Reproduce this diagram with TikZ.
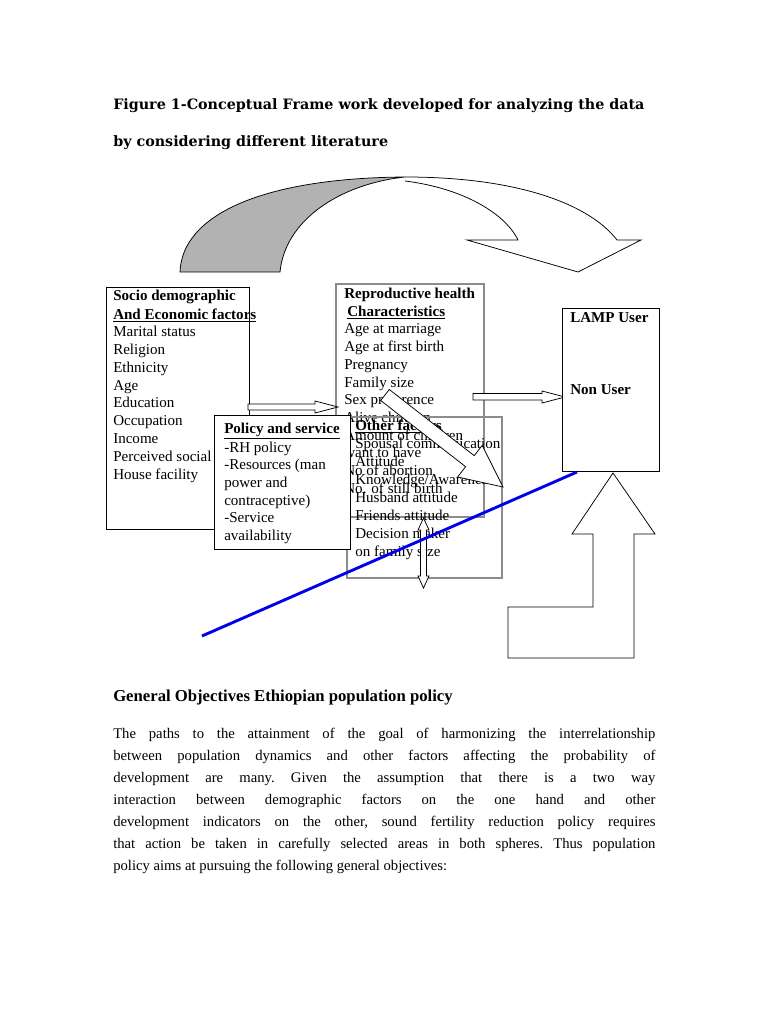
\documentclass[tikz,border=0pt]{standalone}
\usepackage{fontspec}
\setmainfont{Liberation Serif}
\newfontfamily\titlefont{DejaVu Serif}
\usetikzlibrary{positioning}
\definecolor{boxgray}{RGB}{140,140,140}
\definecolor{ribbongray}{RGB}{178,178,178}
\definecolor{trendblue}{RGB}{0,0,235}
\tikzset{
  boxframe/.style={draw=black,line width=0.7pt,fill=white},
  grayframe/.style={draw=boxgray,line width=0.9pt},
  blockarrow/.style={draw=black,line width=0.6pt,fill=white,line join=miter},
  txt/.style={anchor=base west,inner sep=0pt,font=\fontsize{12}{14}\selectfont},
  hdr/.style={anchor=base west,inner sep=0pt,font=\fontsize{12}{14}\selectfont\bfseries},
  ttl/.style={anchor=base west,inner sep=0pt,font=\titlefont\fontsize{11.4}{13}\selectfont\bfseries},
  bodyline/.style={anchor=base west,inner sep=0pt,font=\fontsize{11.7}{14}\selectfont\frenchspacing}
}
\newcommand{\fullline}[1]{\makebox[432pt][s]{#1}}

\begin{document}
\begin{tikzpicture}[x=0.7968pt,y=-0.7968pt]
  \useasboundingbox (0,0) rectangle (768,1024);

  % title
  \node[ttl] (title1) at (113,110) {Figure 1-Conceptual Frame work developed for analyzing the data};
  \node[ttl] (title2) at (113,147) {by considering different literature};

  % curved arrow over the frame work
  \draw[line width=0.6pt,fill=ribbongray] (180,272) .. controls (182,215) and (262,178) .. (405,177)
    .. controls (340,184) and (285,220) .. (280,272) -- cycle;
  \draw[blockarrow] (405,177) .. controls (520,177) and (590,205) .. (617,240) -- (641,240) -- (578,272)
    -- (467,240) -- (518,240) .. controls (505,213) and (462,188) .. (405,181);

  % socio demographic box
  \draw[boxframe] (106,287) rectangle (249,529);
  \node[hdr] (soch1) at (113,300.7) {Socio demographic};
  \node[hdr] (soch2) at (113,319.3) {\underline{And Economic factors}};
  \node[txt] (soc1) at (113,336) {Marital status};
  \node[txt] (soc2) at (113,354) {Religion};
  \node[txt] (soc3) at (113,372) {Ethnicity};
  \node[txt] (soc4) at (113,390) {Age};
  \node[txt] (soc5) at (113,407) {Education};
  \node[txt] (soc6) at (113,425) {Occupation};
  \node[txt] (soc7) at (113,443) {Income};
  \node[txt] (soc8) at (113,461) {Perceived social};
  \node[txt] (soc9) at (113,479) {House facility};

  % reproductive health box
  \draw[grayframe] (336,284) rectangle (484,517);
  \node[hdr] (reph1) at (344,298.3) {Reproductive health};
  \node[hdr] (reph2) at (347,316) {\underline{Characteristics}};
  \node[txt] (rep1) at (344,333.5) {Age at marriage};
  \node[txt] (rep2) at (344,351) {Age at first birth};
  \node[txt] (rep3) at (344,369) {Pregnancy};
  \node[txt] (rep4) at (344,387) {Family size};
  \node[txt] (rep5) at (344,404) {Sex preference};
  \node[txt] (rep6) at (344,422) {Alive children};
  \node[txt] (rep7) at (344,440) {Amount of children};
  \node[txt] (rep8) at (344,457) {want to have};
  \node[txt] (rep9) at (344,475) {No of abortion};
  \node[txt] (rep10) at (344,493) {No. of still birth};

  % other factors box
  \draw[grayframe] (347,417) rectangle (502,578);
  \node[hdr] (oth0) at (355,430) {\underline{Other factors}};
  \node[txt] (oth1) at (355,448) {Spousal communication};
  \node[txt] (oth2) at (355,466) {Attitude};
  \node[txt] (oth3) at (355,484) {Knowledge/Awareness};
  \node[txt] (oth4) at (355,502) {Husband attitude};
  \node[txt] (oth5) at (355,520) {Friends attitude};
  \node[txt] (oth6) at (355,538) {Decision maker};
  \node[txt] (oth7) at (355,556) {on family size};

  % small block arrows
  \draw[blockarrow] (248,404) -- (315,404) -- (315,401) -- (338,407) -- (315,413) -- (315,410) -- (248,410) -- cycle;
  \draw[blockarrow] (473,393.5) -- (542,393.5) -- (542,391) -- (565,397) -- (542,403) -- (542,400) -- (473,400) -- cycle;

  % policy and service box
  \draw[boxframe] (214,415) rectangle (350,549);
  \node[hdr] (pol0) at (224,433.3) {\underline{Policy and service}};
  \node[txt] (pol1) at (224,452) {-RH policy};
  \node[txt] (pol2) at (224,469) {-Resources (man};
  \node[txt] (pol3) at (224,487) {power and};
  \node[txt] (pol4) at (224,505) {contraceptive)};
  \node[txt] (pol5) at (224,522) {-Service};
  \node[txt] (pol6) at (224,540) {availability};

  % diagonal arrow
  \draw[blockarrow] (389.3,389.5) -- (474.2,455.7) -- (482.2,445.4) -- (503,487) -- (457.6,477.0)
    -- (465.6,466.7) -- (380.7,400.5) -- cycle;

  % LAMP box
  \draw[boxframe] (562,308) rectangle (659,471);
  \node[hdr] (lamp) at (570,322.7) {LAMP User};
  \node[hdr] (nonuser) at (570,394) {Non User};

  % feedback arrow
  \draw[blockarrow] (613,473) -- (655,534) -- (634,534) -- (634,658) -- (508,658) -- (508,607)
    -- (593,607) -- (593,534) -- (572,534) -- cycle;

  % two way arrow
  \draw[blockarrow] (423.5,518) -- (429,530) -- (426.5,530) -- (426.5,576) -- (429,576) -- (423.5,588)
    -- (418,576) -- (420.5,576) -- (420.5,530) -- (418,530) -- cycle;

  \draw[trendblue,line width=2.3pt] (202,636) -- (577,472);

  % text below the figure
  \node[hdr,font=\fontsize{13.3}{16}\selectfont\bfseries] (objhead) at (113,701) {General Objectives Ethiopian population policy};
  \node[bodyline] (par1) at (113,738) {\fullline{The paths to the attainment of the goal of harmonizing the interrelationship}};
  \node[bodyline] (par2) at (113,760) {\fullline{between population dynamics and other factors affecting the probability of}};
  \node[bodyline] (par3) at (113,782) {\fullline{development are many. Given the assumption that there is a two way}};
  \node[bodyline] (par4) at (113,804) {\fullline{interaction between demographic factors on the one hand and other}};
  \node[bodyline] (par5) at (113,826) {\fullline{development indicators on the other, sound fertility reduction policy requires}};
  \node[bodyline] (par6) at (113,848) {\fullline{that action be taken in carefully selected areas in both spheres. Thus population}};
  \node[bodyline] (par7) at (113,870) {policy aims at pursuing the following general objectives:};
\end{tikzpicture}
\end{document}
